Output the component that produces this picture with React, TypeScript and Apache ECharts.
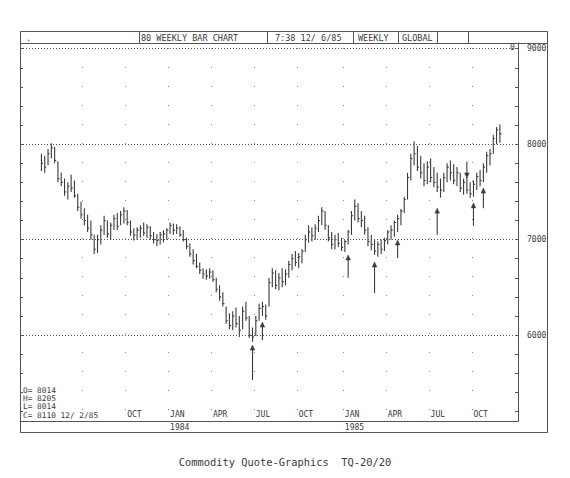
import React, { useEffect, useRef } from "react";
import * as echarts from "echarts";

// ---- data ----
const WEEK_SLOTS = 151; // weekly category slots across the plot
const FIRST_BAR_WEEK = 6; // slot of the first weekly bar

const highs = [
  7900, 7880, 7950, 8010, 7970, 7820, 7700, 7640, 7600, 7680,
  7620, 7480, 7400, 7330, 7260, 7200, 7050, 7050, 7150, 7250,
  7200, 7180, 7260, 7280, 7300, 7340, 7310, 7200, 7120, 7130,
  7150, 7180, 7160, 7140, 7080, 7060, 7080, 7100, 7120, 7180,
  7170, 7160, 7140, 7100, 7020, 6960, 6900, 6850, 6760, 6700,
  6690, 6700, 6680, 6600, 6520, 6450, 6300, 6230, 6250, 6290,
  6200, 6300, 6350, 6200, 6080, 6200, 6330, 6350, 6320, 6600,
  6700, 6680, 6650, 6700, 6690, 6780, 6850, 6880, 6860, 6900,
  7050, 7150, 7130, 7160, 7250, 7340, 7300, 7150, 7080, 7050,
  7070, 7020, 7000, 7100, 7300, 7420, 7380, 7300, 7250, 7130,
  7050, 7000, 6980, 7000, 7020, 7100, 7150, 7200, 7260, 7320,
  7450, 7700, 7900, 8030, 7980, 7880, 7800, 7820, 7850, 7760,
  7700, 7640, 7700, 7800, 7830, 7790, 7760, 7700, 7640, 7660,
  7600, 7620, 7700, 7730, 7800, 7920, 7950, 8100, 8180, 8205,
];
const lows = [
  7720, 7700, 7780, 7850, 7800, 7600, 7560, 7460, 7420, 7500,
  7440, 7300, 7220, 7150, 7080, 7000, 6850, 6860, 6950, 7050,
  7020, 7000, 7100, 7100, 7150, 7170, 7150, 7040, 6990, 7000,
  7020, 7040, 7020, 7000, 6960, 6930, 6950, 6970, 7000, 7060,
  7050, 7060, 7030, 6980, 6900, 6820, 6740, 6700, 6640, 6590,
  6580, 6590, 6560, 6450, 6360, 6300, 6120, 6060, 6050, 6080,
  5980, 6060, 6150, 5970, 5930, 5990, 6150, 6200, 6160, 6300,
  6500, 6480, 6470, 6500, 6520, 6600, 6680, 6720, 6700, 6750,
  6870, 6970, 6980, 7000, 7080, 7150, 7100, 6980, 6900, 6900,
  6920, 6880, 6870, 6950, 7050, 7200, 7180, 7130, 7050, 6930,
  6890, 6840, 6820, 6850, 6880, 6950, 7000, 7030, 7080, 7150,
  7280, 7420, 7620, 7780, 7720, 7640, 7560, 7580, 7600, 7550,
  7500, 7440, 7500, 7600, 7620, 7580, 7560, 7500, 7470, 7480,
  7440, 7450, 7520, 7560, 7600, 7700, 7780, 7900, 8000, 8014,
];
const closes = [
  7800, 7760, 7900, 7960, 7830, 7640, 7600, 7500, 7560, 7540,
  7460, 7340, 7260, 7200, 7120, 7050, 6900, 7000, 7100, 7200,
  7060, 7150, 7220, 7140, 7260, 7300, 7180, 7080, 7050, 7100,
  7120, 7070, 7130, 7040, 7000, 6990, 7050, 7060, 7100, 7150,
  7100, 7120, 7050, 7000, 6930, 6850, 6780, 6720, 6680, 6640,
  6620, 6660, 6580, 6480, 6400, 6330, 6150, 6100, 6200, 6120,
  6050, 6250, 6180, 6000, 5980, 6150, 6280, 6300, 6200, 6550,
  6650, 6520, 6600, 6560, 6640, 6740, 6800, 6760, 6820, 6880,
  7000, 7080, 7040, 7120, 7200, 7300, 7150, 7020, 6950, 7000,
  6960, 6920, 6980, 7080, 7250, 7350, 7220, 7200, 7100, 6980,
  6950, 6880, 6950, 6900, 6990, 7080, 7100, 7180, 7220, 7300,
  7420, 7650, 7850, 7900, 7760, 7700, 7620, 7760, 7650, 7600,
  7550, 7520, 7650, 7760, 7700, 7620, 7700, 7540, 7600, 7520,
  7480, 7580, 7660, 7620, 7760, 7880, 7900, 8060, 8150, 8110,
];

// annotation arrows: [week slot, tip price, tail price]
const signalArrows = [
  [70, 5895, 5530],
  [73, 6136, 5948],
  [99, 6840, 6600],
  [107, 6766, 6440],
  [114, 6997, 6808],
  [126, 7330, 7050],
  [137, 7385, 7145],
  [140, 7540, 7330],
  [135, 7647, 7815],
];

const monthTickWeeks = [32, 45, 58, 71, 84, 98, 111, 124, 137];
const monthTickLabels = ["OCT", "JAN", "APR", "JUL", "OCT", "JAN", "APR", "JUL", "OCT"];
const gridWeeks = [19, 32, 45, 58, 71, 84, 98, 111, 124, 137];
const yearWeeks = [45, 98];
const yearLabels = ["1984", "1985"];
const priceLabels = [6000, 7000, 8000, 9000];
const priceTicks = [
  5200, 5400, 5600, 5800, 6000, 6200, 6400, 6600, 6800, 7000,
  7200, 7400, 7600, 7800, 8000, 8200, 8400, 8600, 8800, 9000,
];
const lastOpen = 8014;
const lastHigh = 8205;
const lastLow = 8014;
const lastClose = 8110;
const lastDate = "12/ 2/85";

const MONO = '"DejaVu Sans Mono", "Liberation Mono", monospace';
const INK = "#3a3a3a";
const LINE = "#555";

export default function App() {
  const ref = useRef<HTMLDivElement>(null);

  useEffect(() => {
    if (!ref.current) return;
    const chart = echarts.init(ref.current, null, { renderer: "svg" });

    const weeks = Array.from({ length: WEEK_SLOTS }, (_, i) => String(i));
    const ohlcData = highs.map((h, k) => [FIRST_BAR_WEEK + k, h, lows[k], closes[k]]);

    const monthLabelOf = (idx: number) => {
      const p = monthTickWeeks.indexOf(idx);
      return p >= 0 ? monthTickLabels[p] : "";
    };
    const yearLabelOf = (idx: number) => {
      const p = yearWeeks.indexOf(idx);
      return p >= 0 ? yearLabels[p] : "";
    };

    const headerSeparators = [139, 267, 353, 398, 437, 468];
    const headerTexts: [string, number][] = [
      [".", 26],
      ["80 WEEKLY BAR CHART", 141],
      ["7:38 12/ 6/85", 275],
      ["WEEKLY", 358],
      ["GLOBAL", 402],
    ];
    const quoteLines = [
      `O= ${lastOpen}`,
      `H= ${lastHigh}`,
      `L= ${lastLow}`,
      `C= ${lastClose} ${lastDate}`,
    ];

    const graphics: any[] = [
      {
        type: "rect",
        shape: { x: 20.5, y: 31.5, width: 527, height: 401 },
        style: { fill: "none", stroke: LINE, lineWidth: 1 },
        silent: true,
      },
      {
        type: "line",
        shape: { x1: 20, y1: 43.5, x2: 548, y2: 43.5 },
        style: { stroke: LINE, lineWidth: 1 },
        silent: true,
      },
      ...headerSeparators.map((x) => ({
        type: "line",
        shape: { x1: x + 0.5, y1: 31, x2: x + 0.5, y2: 43 },
        style: { stroke: LINE, lineWidth: 1 },
        silent: true,
      })),
      ...headerTexts.map(([t, x]) => ({
        type: "text",
        x,
        y: 37.5,
        style: { text: t, font: `8.5px ${MONO}`, fill: INK, verticalAlign: "middle" },
        silent: true,
      })),
      {
        type: "text",
        x: 510,
        y: 47,
        style: { text: "0", font: `8px ${MONO}`, fill: INK, verticalAlign: "middle" },
        silent: true,
      },
      ...quoteLines.map((t, k) => ({
        type: "text",
        x: 23,
        y: 390.5 + k * 8.2,
        style: { text: t, font: `7.8px ${MONO}`, fill: INK, verticalAlign: "middle" },
        silent: true,
      })),
      {
        type: "text",
        x: 285,
        y: 462,
        style: {
          text: "Commodity Quote-Graphics  TQ-20/20",
          font: `10.4px ${MONO}`,
          fill: INK,
          align: "center",
          verticalAlign: "middle",
        },
        silent: true,
      },
    ];

    const option: any = {
      animation: false,
      backgroundColor: "#ffffff",
      grid: { left: 20, right: 52, top: 43, bottom: 57, containLabel: false },
      xAxis: [
        {
          type: "category",
          data: weeks,
          position: "bottom",
          boundaryGap: true,
          axisLine: { show: true, onZero: false, lineStyle: { color: LINE, width: 1 } },
          axisTick: { show: false },
          axisLabel: {
            inside: true,
            margin: 3,
            align: "left",
            interval: (idx: number) => monthTickWeeks.includes(idx),
            formatter: (_v: string, idx: number) => monthLabelOf(idx),
            fontFamily: MONO,
            fontSize: 8,
            color: INK,
          },
          splitLine: {
            show: true,
            interval: (idx: number) => gridWeeks.includes(idx),
            lineStyle: { color: "#888", width: 1, type: [1, 18], dashOffset: -5 },
          },
        },
        {
          type: "category",
          data: weeks,
          position: "bottom",
          boundaryGap: true,
          axisLine: { show: false, onZero: false },
          axisTick: { show: false },
          splitLine: { show: false },
          axisLabel: {
            margin: 2,
            align: "left",
            interval: (idx: number) => yearWeeks.includes(idx),
            formatter: (_v: string, idx: number) => yearLabelOf(idx),
            fontFamily: MONO,
            fontSize: 8,
            color: INK,
          },
        },
      ],
      yAxis: [
        {
          type: "value",
          position: "left",
          min: 5100,
          max: 9060,
          axisLine: { show: true, onZero: false, lineStyle: { color: LINE, width: 1 } },
          axisTick: {
            show: true,
            inside: true,
            length: 3,
            customValues: priceTicks,
            lineStyle: { color: LINE },
          },
          axisLabel: { show: false },
          splitLine: { show: false },
        },
        {
          type: "value",
          position: "right",
          min: 5100,
          max: 9060,
          axisLine: { show: true, onZero: false, lineStyle: { color: LINE, width: 1 } },
          axisTick: {
            show: true,
            inside: true,
            length: 3,
            customValues: priceTicks,
            lineStyle: { color: LINE },
          },
          axisLabel: {
            show: true,
            margin: 9,
            customValues: priceLabels,
            formatter: (v: number) => String(v),
            fontFamily: MONO,
            fontSize: 8,
            color: INK,
          },
          splitLine: { show: false },
        },
      ],
      series: [
        {
          type: "custom",
          name: "bars",
          xAxisIndex: 0,
          yAxisIndex: 0,
          data: ohlcData,
          encode: { x: 0, y: [1, 2, 3] },
          silent: true,
          renderItem: (_params: any, api: any) => {
            const w = api.value(0);
            const pHi = api.coord([w, api.value(1)]);
            const pLo = api.coord([w, api.value(2)]);
            const pCl = api.coord([w, api.value(3)]);
            const st = { stroke: INK, lineWidth: 1.1 };
            return {
              type: "group",
              children: [
                { type: "line", shape: { x1: pHi[0], y1: pHi[1], x2: pLo[0], y2: pLo[1] }, style: st },
                { type: "line", shape: { x1: pCl[0], y1: pCl[1], x2: pCl[0] + 1.6, y2: pCl[1] }, style: st },
              ],
            };
          },
          markLine: {
            silent: true,
            symbol: ["none", "none"],
            label: { show: false },
            lineStyle: { color: LINE, width: 1, type: [1, 2] },
            data: priceLabels.map((v) => ({ yAxis: v })),
          },
        },
        {
          type: "custom",
          name: "signals",
          xAxisIndex: 0,
          yAxisIndex: 0,
          data: signalArrows,
          encode: { x: 0, y: [1, 2] },
          silent: true,
          renderItem: (_params: any, api: any) => {
            const w = api.value(0);
            const pTip = api.coord([w, api.value(1)]);
            const pTail = api.coord([w, api.value(2)]);
            const dir = pTail[1] > pTip[1] ? 1 : -1;
            const headLen = 5;
            const headW = 2.3;
            const base = pTip[1] + dir * headLen;
            const x = pTip[0];
            return {
              type: "group",
              children: [
                {
                  type: "line",
                  shape: { x1: x, y1: pTail[1], x2: x, y2: base },
                  style: { stroke: INK, lineWidth: 1.1 },
                },
                {
                  type: "polygon",
                  shape: { points: [[x, pTip[1]], [x - headW, base], [x + headW, base]] },
                  style: { fill: INK, stroke: INK, lineWidth: 0.5 },
                },
              ],
            };
          },
        },
      ],
      graphic: graphics,
    };

    chart.setOption(option);
    return () => chart.dispose();
  }, []);

  return (
    <div
      ref={ref}
      style={{ position: "fixed", left: 0, top: 0, width: 570, height: 478, background: "#fff" }}
    />
  );
}
